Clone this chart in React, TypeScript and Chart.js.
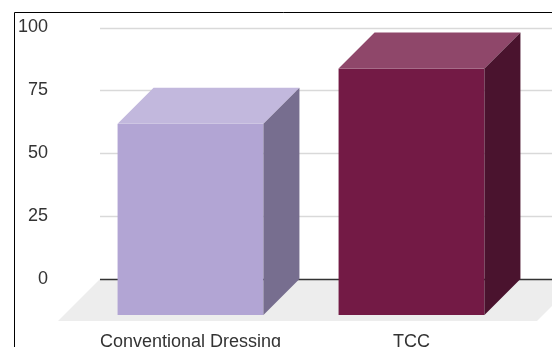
import { useEffect, useRef } from "react";
import { Chart, registerables } from "chart.js";

Chart.register(...registerables);

// Data
const categories = ["Conventional Dressing", "TCC"];
const scores = [76, 98];
const yTickValues = [0, 25, 50, 75, 100];

// Face colours per bar
const frontColors = ["#b2a5d4", "#731a45"];
const topColors = ["#c2b8dd", "#8f476a"];
const sideColors = ["#776e8f", "#4a132e"];

const BAR_DEPTH = 36; // diagonal shift between front and back faces
const FLOOR_DEPTH = 42;
const WALL_INSET = 20; // back wall starts this far right of the plot's left edge

const FONT = { family: "'Liberation Sans', Arial, sans-serif", size: 18 };

const box3d = {
  id: "box3d",
  beforeDatasetsDraw(chart: any) {
    const { ctx, chartArea: area, scales } = chart;
    const y = scales.y;
    const zeroY = y.getPixelForValue(0);
    const wallLeft = area.left + WALL_INSET;
    const floorRight = area.right + 57;

    ctx.save();
    // floor
    ctx.fillStyle = "#ededed";
    ctx.beginPath();
    ctx.moveTo(wallLeft, zeroY);
    ctx.lineTo(floorRight, zeroY);
    ctx.lineTo(floorRight - FLOOR_DEPTH, zeroY + FLOOR_DEPTH);
    ctx.lineTo(wallLeft - FLOOR_DEPTH, zeroY + FLOOR_DEPTH);
    ctx.closePath();
    ctx.fill();

    // gridlines on the back wall
    yTickValues.forEach((v) => {
      const py = Math.round(y.getPixelForValue(v)) + 0.5;
      ctx.beginPath();
      ctx.strokeStyle = v === 0 ? "#333333" : "#d9d9d9";
      ctx.lineWidth = 1.5;
      ctx.moveTo(wallLeft, py);
      ctx.lineTo(chart.width, py);
      ctx.stroke();
    });
    ctx.restore();
  },
  afterDatasetsDraw(chart: any) {
    const { ctx } = chart;
    const meta = chart.getDatasetMeta(0);
    const d = BAR_DEPTH;
    ctx.save();
    meta.data.forEach((el: any, i: number) => {
      const { x, y, base, width } = el.getProps(["x", "y", "base", "width"], true);
      const L = x - width / 2;
      const R = x + width / 2;
      const T = y + d;
      const B = base + d;

      // front face
      ctx.fillStyle = frontColors[i];
      ctx.fillRect(L, T, R - L, B - T);

      // top face
      ctx.fillStyle = topColors[i];
      ctx.beginPath();
      ctx.moveTo(L, T);
      ctx.lineTo(R, T);
      ctx.lineTo(R + d, T - d);
      ctx.lineTo(L + d, T - d);
      ctx.closePath();
      ctx.fill();

      // side face
      ctx.fillStyle = sideColors[i];
      ctx.beginPath();
      ctx.moveTo(R, T);
      ctx.lineTo(R + d, T - d);
      ctx.lineTo(R + d, B - d);
      ctx.lineTo(R, B);
      ctx.closePath();
      ctx.fill();
    });
    ctx.restore();
  },
  afterDraw(chart: any) {
    const { ctx } = chart;
    ctx.save();
    ctx.strokeStyle = "#000000";
    ctx.lineWidth = 1;
    ctx.beginPath();
    ctx.moveTo(14.5, chart.height);
    ctx.lineTo(14.5, 12.5);
    ctx.lineTo(chart.width, 12.5);
    ctx.stroke();
    ctx.restore();
  },
};

export default function App() {
  const canvasRef = useRef<HTMLCanvasElement | null>(null);

  useEffect(() => {
    if (!canvasRef.current) return;
    const chart = new Chart(canvasRef.current, {
      type: "bar",
      data: {
        labels: categories,
        datasets: [
          {
            data: scores,
            backgroundColor: "rgba(0,0,0,0)",
            borderWidth: 0,
            barPercentage: 0.66,
            categoryPercentage: 1,
          },
        ],
      },
      options: {
        responsive: false,
        animation: false,
        layout: { padding: { top: 27.5, right: 30, bottom: 0, left: 0 } },
        plugins: {
          legend: { display: false },
          tooltip: { enabled: false },
        },
        scales: {
          x: {
            grid: { display: false, drawTicks: false },
            border: { display: false },
            ticks: { color: "#333333", font: FONT, padding: 52, maxRotation: 0 },
            afterFit: (scale: any) => {
              scale.height = 68;
            },
          },
          y: {
            min: 0,
            max: 100,
            grid: { display: false, drawTicks: false },
            border: { display: false },
            ticks: { color: "#333333", font: FONT, padding: 32, stepSize: 25 },
            afterFit: (scale: any) => {
              scale.width = 80;
              scale.paddingTop = 0;
              scale.paddingBottom = 0;
            },
          },
        },
      },
      plugins: [box3d],
    });
    return () => chart.destroy();
  }, []);

  return (
    <div style={{ position: "fixed", left: 0, top: 0, width: 552, height: 347, background: "#fff" }}>
      <canvas ref={canvasRef} width={552} height={347} />
    </div>
  );
}
